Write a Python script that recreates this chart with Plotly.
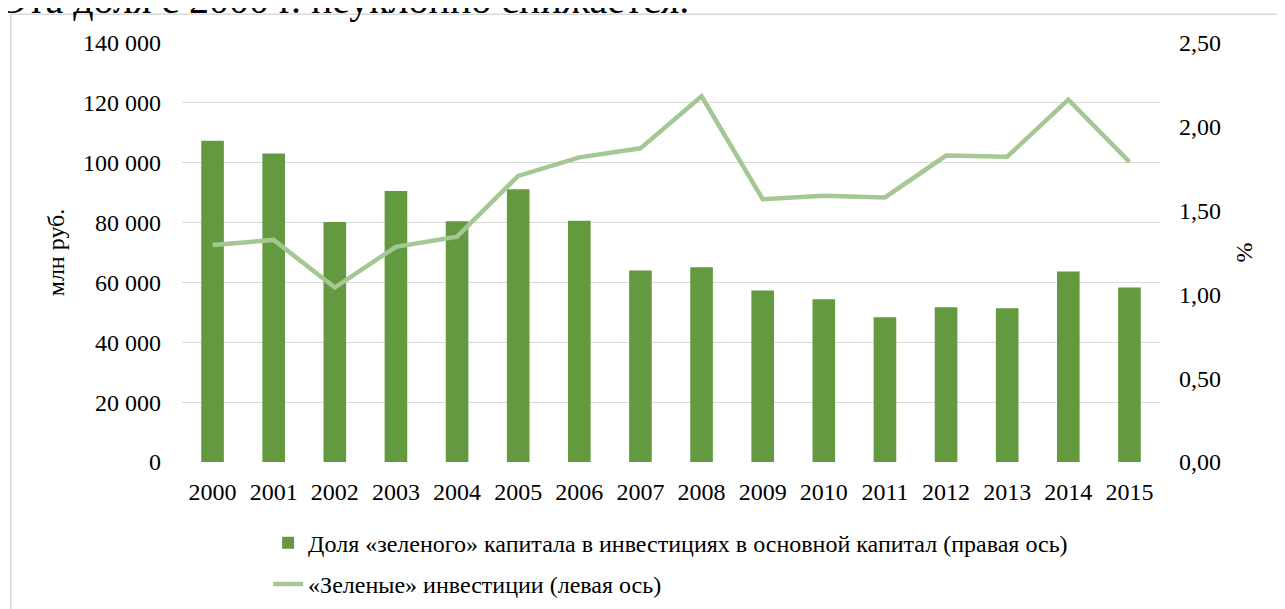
import plotly.graph_objects as go

years = [str(y) for y in range(2000, 2016)]
share_pct = [1.917, 1.841, 1.432, 1.617, 1.436, 1.627, 1.440, 1.142, 1.162, 1.023, 0.971, 0.864, 0.924, 0.918, 1.136, 1.041]
green_inv = [72500, 74200, 58300, 71900, 75300, 95600, 101800, 104800, 122200, 87800, 89000, 88400, 102400, 102000, 121100, 100300]

bar_name = "Доля «зеленого» капитала в инвестициях в основной капитал (правая ось)"
line_name = "«Зеленые» инвестиции (левая ось)"
left_ticks = [0, 20000, 40000, 60000, 80000, 100000, 120000, 140000]
right_ticks = [0, 0.5, 1.0, 1.5, 2.0, 2.5]

FONT = "Liberation Serif, Times New Roman, Times, serif"
FS = 24
# page body has an 8px margin, so the figure is laid out 8px smaller
W, H = 1277, 601
L, T = 173.5, 34.8
R, B = W - 1152.5, H - 454.3
pw, ph = W - L - R, H - T - B

fig = go.Figure()
fig.add_trace(go.Bar(x=years, y=share_pct, name=bar_name, marker=dict(color="#639A3F", line=dict(width=0)),
                     yaxis="y", legendgroup="a"))
fig.add_trace(go.Scatter(x=years, y=green_inv, name=line_name, mode="lines",
                         line=dict(color="#A5C794", width=4.5), yaxis="y2", legendgroup="b"))

def px2paper_x(px):
    return (px - L) / pw

def px2paper_y(py):
    return (H - B - py) / ph

fig.update_layout(
    width=W, height=H,
    margin=dict(l=L, r=R, t=T, b=B, autoexpand=False),
    paper_bgcolor="white", plot_bgcolor="white",
    separators=", ",
    font=dict(family=FONT, size=FS, color="#000000"),
    bargap=0.63,
    xaxis=dict(type="category", showgrid=False, showline=False, ticks="", ticklabelstandoff=13,
               automargin=False, tickfont=dict(size=FS, family=FONT)),
    yaxis=dict(side="right", range=[0, 2.5], tickvals=right_ticks, tickformat=".2f", automargin=True,
               showgrid=False, zeroline=False, showline=False, ticks="", ticklabelstandoff=18,
               tickfont=dict(size=FS, family=FONT),
               title=dict(text="%", font=dict(size=FS, family=FONT), standoff=15)),
    yaxis2=dict(side="left", overlaying="y", range=[0, 140000], tickvals=left_ticks, tickformat=",d",
                automargin=True,
                showgrid=True, gridcolor="#D9D9D9", gridwidth=1.3, zeroline=False, showline=False,
                ticks="", ticklabelstandoff=20, tickfont=dict(size=FS, family=FONT),
                title=dict(text="млн руб.", font=dict(size=FS, family=FONT), standoff=11)),
    legend=dict(orientation="v", x=px2paper_x(259.7), y=px2paper_y(513), xanchor="left", yanchor="top",
                font=dict(size=FS, family=FONT), tracegroupgap=7, bgcolor="rgba(0,0,0,0)"),
    showlegend=True,
)

# chart frame border
fig.add_shape(type="rect", xref="paper", yref="paper",
              x0=px2paper_x(2), x1=px2paper_x(1300), y0=px2paper_y(620), y1=px2paper_y(6),
              line=dict(color="#D9D9D9", width=1.5), fillcolor="rgba(0,0,0,0)", layer="above")

# clipped document text above the chart
fig.add_annotation(text="Эта доля с 2000 г. неуклонно снижается.", xref="paper", yref="paper",
                   x=px2paper_x(-10), y=px2paper_y(15.5), xanchor="left", yanchor="bottom",
                   showarrow=False, font=dict(size=40, family=FONT, color="#000000"))

fig.write_html("out.html")
